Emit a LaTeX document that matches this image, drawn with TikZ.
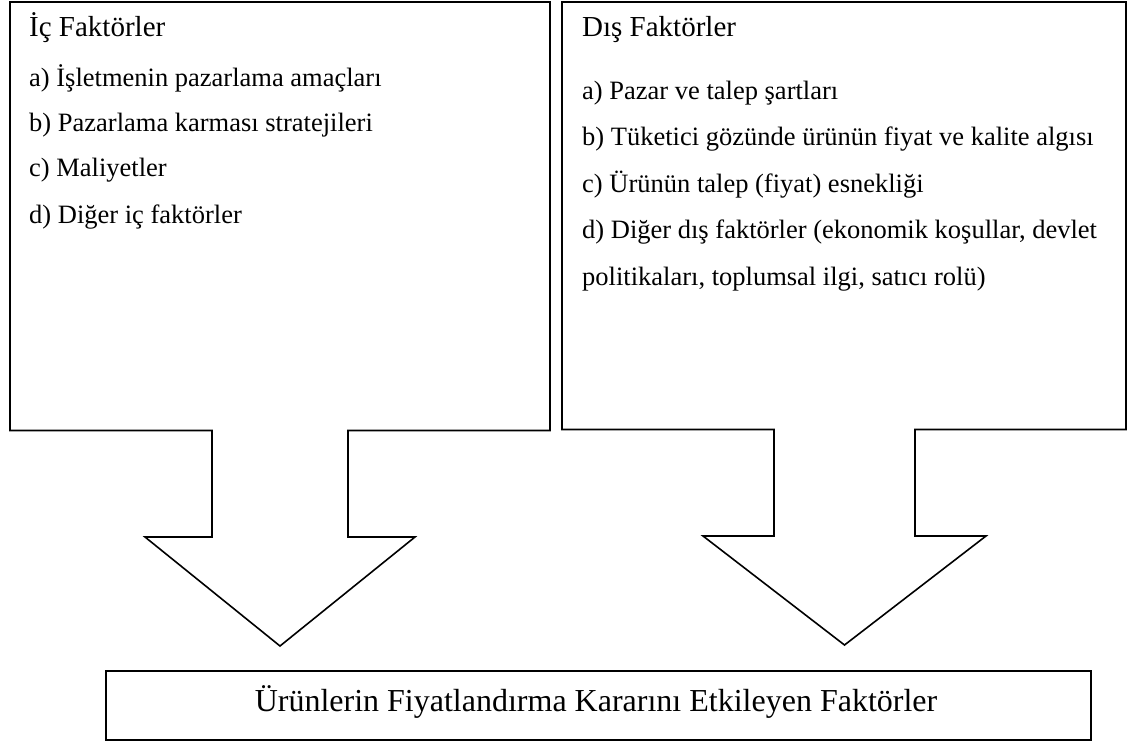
\documentclass[tikz,border=0pt]{standalone}
\usepackage{fontspec}
\setmainfont{Liberation Serif}
\begin{document}
\begin{tikzpicture}[x=1pt,y=-1pt,
  outline/.style={draw=black,line width=1.6pt,line join=miter,fill=white},
  item/.style={anchor=base west,inner sep=0pt,font=\fontsize{26.5}{30}\selectfont},
  head/.style={anchor=base west,inner sep=0pt,font=\fontsize{29}{33}\selectfont},
  bigtext/.style={anchor=base,inner sep=0pt,font=\fontsize{32}{36}\selectfont}]
\useasboundingbox (0,0) rectangle (1131,743);
\fill[white] (0,0) rectangle (1131,743);
% left box with arrow
\draw[outline] (10,2) -- (550,2) -- (550,430.5) -- (348,430.5) -- (348,537) -- (415,537)
  -- (280,646) -- (145,537) -- (212,537) -- (212,430.5) -- (10,430.5) -- cycle;
% right box with arrow
\draw[outline] (562,2) -- (1126,2) -- (1126,429.5) -- (915,429.5) -- (915,536) -- (986,536)
  -- (844.5,645) -- (703,536) -- (774,536) -- (774,429.5) -- (562,429.5) -- cycle;
% bottom box
\node[draw=black,line width=1.8pt,minimum width=985pt,minimum height=69pt,inner sep=0pt,anchor=north west] (res) at (105,670) {};
\node[bigtext] (restext) at (596,711) {Ürünlerin Fiyatlandırma Kararını Etkileyen Faktörler};
% left texts
\node[head] (ic) at (29,37) {İç Faktörler};
\node[item] (ia) at (29,87) {a) İşletmenin pazarlama amaçları};
\node[item] (ib) at (29,132) {b) Pazarlama karması stratejileri};
\node[item] (icc) at (29,177) {c) Maliyetler};
\node[item] (id) at (29,223) {d) Diğer iç faktörler};
% right texts
\node[head] (dis) at (582,37) {Dış Faktörler};
\node[item] (da) at (582,100) {a) Pazar ve talep şartları};
\node[item] (db) at (582,146) {b) Tüketici gözünde ürünün fiyat ve kalite algısı};
\node[item] (dc) at (582,193) {c) Ürünün talep (fiyat) esnekliği};
\node[item] (dd) at (582,238) {d) Diğer dış faktörler (ekonomik koşullar, devlet};
\node[item] (dd2) at (582,285) {politikaları, toplumsal ilgi, satıcı rolü)};
\end{tikzpicture}
\end{document}
